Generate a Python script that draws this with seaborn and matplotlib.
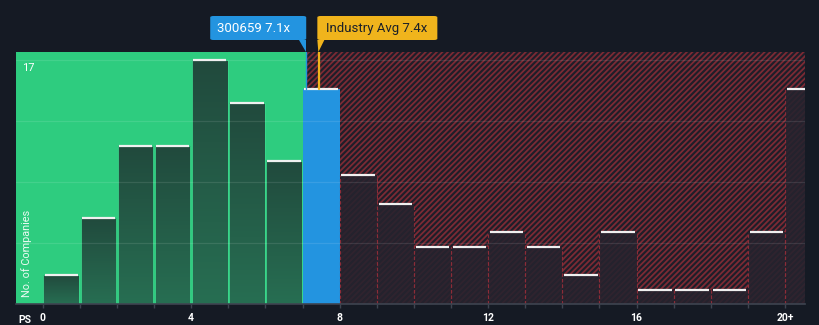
import numpy as np
import matplotlib
matplotlib.use("Agg")
import matplotlib.pyplot as plt
import seaborn as sns
from matplotlib.patches import Rectangle, Polygon, FancyBboxPatch
from matplotlib.colors import LinearSegmentedColormap

# ---- data ----
bin_left = list(range(0, 21))
counts = [2, 6, 11, 11, 17, 14, 10, 15, 9, 7, 4, 4, 5, 4, 2, 5, 1, 1, 1, 5, 15]
tick_values = [0, 4, 8, 12, 16, 20]
tick_labels = ["0", "4", "8", "12", "16", "20+"]
company_label = "300659"
company_value = 7.1
industry_value = 7.4
y_max_label = 17

sns.set_theme(style="dark")
plt.rcParams["font.family"] = ["Roboto", "DejaVu Sans"]
plt.rcParams["hatch.linewidth"] = 1.3

BG = "#151a24"
GREEN = "#2ecc7f"
BLUE = "#2394e0"
YELLOW = "#f0b41c"
RED = "#7c2a34"

W, H = 820, 325
fig = plt.figure(figsize=(W / 100, H / 100), dpi=100, facecolor=BG)
ax = fig.add_axes([16 / W, 21 / H, 789 / W, 252 / H])
ax.set_facecolor(BG)

centers = [b + 0.5 for b in bin_left]
sns.barplot(x=centers, y=counts, native_scale=True, width=1.0, ax=ax,
            color="#224a3e", saturation=1, linewidth=0, zorder=3)
bars = list(ax.patches)

xmin, xmax = -0.72, 20.54
ymax = 17.58
ax.set_xlim(xmin, xmax)
ax.set_ylim(0, ymax)

# background zones
ax.add_patch(Rectangle((xmin, 0), company_value - xmin, ymax, facecolor=GREEN,
                       edgecolor="none", zorder=0))
plt.rcParams["hatch.color"] = RED
ax.add_patch(Rectangle((company_value, 0), xmax - company_value, ymax, facecolor="#1d1e29",
                       edgecolor=RED, hatch="//////", linewidth=0, zorder=0))

grad_cmap = LinearSegmentedColormap.from_list("g", ["#276e52", "#214a3d"])
grad = np.linspace(0, 1, 100).reshape(-1, 1)

for b, p in zip(bin_left, bars):
    x0 = p.get_x()
    w = p.get_width()
    h = p.get_height()
    if b + 1 <= company_value:
        p.set_facecolor("none")
        p.set_edgecolor("none")
        im = ax.imshow(grad, extent=[x0 + 0.02, x0 + w - 0.02, 0, h], origin="lower",
                       aspect="auto", cmap=grad_cmap, zorder=2)
        im.set_clip_path(p)
        ax.add_patch(Rectangle((x0 + 0.02, 0), w - 0.04, h, facecolor="none",
                               edgecolor="#3bd98c", linewidth=0.6, zorder=3))
    elif b <= company_value:
        p.set_facecolor(BLUE)
        p.set_edgecolor("none")
    else:
        p.set_facecolor("#25232e")
        p.set_alpha(0.88)
        p.set_edgecolor("none")
        for ex in (x0, x0 + w):
            ax.plot([ex, ex], [0, h], color="#8c2c38", lw=0.8, ls=(0, (3, 2)), zorder=3)
    ax.plot([x0 + 0.05, x0 + w - 0.05], [h, h], color="#f0f0f0", lw=1.6,
            solid_capstyle="butt", zorder=4)

# grid lines
for gv in np.linspace(0, y_max_label, 5)[1:]:
    ax.axhline(gv, color="white", alpha=0.1, lw=0.9, zorder=5)

# axes styling
for s in ["top", "right", "left"]:
    ax.spines[s].set_visible(False)
ax.spines["bottom"].set_color("#3e4450")
ax.spines["bottom"].set_linewidth(1.2)
ax.spines["bottom"].set_zorder(6)
ax.set_xticks(range(0, 21))
ax.set_xticklabels([tick_labels[tick_values.index(t)] if t in tick_values else "" for t in range(0, 21)])
ax.tick_params(axis="x", colors="#3e4450", length=3, width=1, direction="out", pad=3.5,
               labelcolor="white", labelsize=7.5, bottom=True)
for lab in ax.get_xticklabels():
    lab.set_fontweight("bold")
ax.set_yticks([])
ax.set_xlabel("")
ax.set_ylabel("")

fig.text(18 / W, 1 - 320 / H, "PS", color="white", fontsize=7.5, fontweight="bold",
         ha="left", va="center")
ax.text(0.008, y_max_label - 0.55, str(y_max_label), transform=ax.get_yaxis_transform(),
        color="white", fontsize=8, ha="left", va="center")
ax.text(0.014, 0.2, "No. of Companies", transform=ax.transAxes, rotation=90,
        color="white", fontsize=7.8, ha="center", va="center", alpha=0.9)

# annotations
def to_fig(xd):
    return ax.transData.transform((xd, 0))[0] / W

def fy(ypx):
    return 1 - ypx / H

xc = to_fig(company_value)
xi = to_fig(industry_value)
bar_top = counts[bin_left.index(int(company_value))]

fig.patches.append(FancyBboxPatch((xc - 96 / W, fy(40)), 96 / W, 24 / H,
                                  boxstyle="round,pad=0,rounding_size=0.004",
                                  transform=fig.transFigure, facecolor=BLUE, edgecolor="none"))
fig.patches.append(Polygon([(xc - 7 / W, fy(40)), (xc, fy(40)), (xc, fy(52))], closed=True,
                           transform=fig.transFigure, facecolor=BLUE, edgecolor="none"))
fig.text(xc - 89 / W, fy(28.5), f"{company_label} {company_value}x", color="white",
         fontsize=9.5, ha="left", va="center")
ax.plot([company_value, company_value], [bar_top, ymax], color=BLUE, lw=1, zorder=6)

fig.patches.append(FancyBboxPatch((xi, fy(40)), 120 / W, 24 / H,
                                  boxstyle="round,pad=0,rounding_size=0.004",
                                  transform=fig.transFigure, facecolor=YELLOW, edgecolor="none"))
fig.patches.append(Polygon([(xi, fy(40)), (xi + 7 / W, fy(40)), (xi + 1 / W, fy(52))], closed=True,
                           transform=fig.transFigure, facecolor=YELLOW, edgecolor="none"))
fig.text(xi + 9 / W, fy(28.5), f"Industry Avg {industry_value}x", color="#1b2029",
         fontsize=9.5, ha="left", va="center")
ax.plot([industry_value + 0.04, industry_value + 0.04], [bar_top, ymax], color=YELLOW, lw=1.6, zorder=6)

fig.savefig("out.png", dpi=100, facecolor=BG)
